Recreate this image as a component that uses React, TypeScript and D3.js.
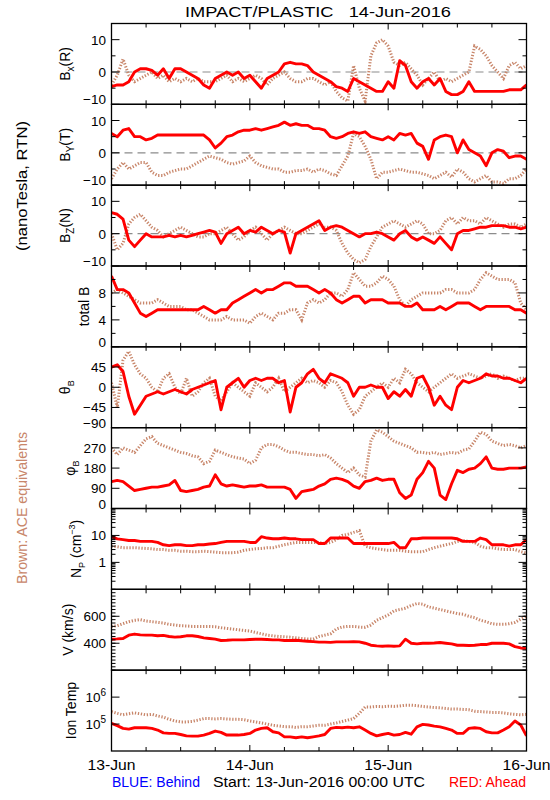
import React from "react";
import * as d3 from "d3";

// ---------- data (hourly samples, hours since 13-Jun-2016 00:00 UTC) ----------
const HOURS = [
  0, 1, 2, 3, 4, 5, 6, 7, 8, 9, 10, 11, 12, 13, 14, 15, 16, 17, 18, 19, 20, 21, 22, 23,
  24, 25, 26, 27, 28, 29, 30, 31, 32, 33, 34, 35, 36, 37, 38, 39, 40, 41, 42, 43, 44, 45, 46, 47,
  48, 49, 50, 51, 52, 53, 54, 55, 56, 57, 58, 59, 60, 61, 62, 63, 64, 65, 66, 67, 68, 69, 70, 71, 72,
];
const DAY_TICKS = [0, 24, 48, 72];
const DAY_LABELS = ["13-Jun", "14-Jun", "15-Jun", "16-Jun"];
const SIX_HOUR_TICKS = [0, 6, 12, 18, 24, 30, 36, 42, 48, 54, 60, 66, 72];

// Bx (R), nT
const bxRed = [-4.5, -4, -4, -3, 0, 1, 1, 0.5, -1, 1, -2, 1, 1, 0, -1, -2, -4, -5, -2, -1, 0, -1, 0, -2, -1, -3, -5, -2, -1, 0, 2.5, 3, 2.5, 2.5, 2, 0, -1, -2, -3, -4.5, -5, -6, -2, -3, -4, -5, -6, -6, -3, -5, 3.5, 2, -3, -5, -3, -2, -4, -2, -6, -7, -7, -6, -3, -6, -6, -6, -6, -6, -6, -5.5, -5.5, -5.5, -4];
const bxAce = [-4, -1, 4, -1, -3, -2, -1, 0, -2, -1, -3, -2, -3, -2, -3, -2, -3, -3, -3, -2, -1, -3, -2, -3, -2, -1, -2, -4, -2, -1, 0, -2, -3, -3, -2, -2, -3, -4, -3, -6, -8, -9, 2, -5, -9, 5, 9, 10, 8, 3, 2, 3, 1, -1, -4, -2, 0, -3, -2, -3, -2, -1, 0, 8, 7, 5, 2, 0, -2, 2, 3, 1, 2];
// By (T), nT
const byRed = [6, 5, 7, 7.5, 5, 5, 4, 4.5, 5.5, 5.5, 5.5, 5.5, 5.5, 5.5, 5.5, 5.5, 5.5, 4, 1.5, 3, 5, 5.5, 6.5, 7, 7, 7.5, 7, 7.5, 8, 8.5, 9.5, 8.5, 9, 8.5, 8.5, 7.5, 7.5, 7, 5, 4.5, 5, 6, 6.5, 6, 6.5, 5, 4.5, 4, 5, 4, 6, 5.5, 6, 3, 2, -2, 4, 5, 5.5, 5, 0, 4, 1, 0, -1, -4, 0, 1, 0.5, -1.5, -1, -1, -2];
const byAce = [-8, -5, -3, -5, -4, -3, -3, -6, -7, -7, -6, -5.5, -5, -5, -4, -3, -2, -1, -1.5, -2, -3, -3.5, -3, -2.5, -1, -3, -4, -4.5, -5, -5, -6, -6, -5.5, -5.5, -5, -6, -5, -5.5, -6.5, -7, -4, -1, 6, 5, 2, -2, -8, -6, -6, -5.5, -5, -5.5, -6, -6, -6.5, -7, -8, -7, -6, -7.5, -5, -6, -8, -9, -8, -7, -9, -9, -9.5, -8, -8, -7, -5];
// Bz (N), nT
const bzRed = [6.5, 6, 4.5, -2, -4, -2, 0, -1, -1, -1, -0.5, -1, -0.5, -1, -0.5, 0, 0.5, 1, 0.5, -3, 0, 1, 2, 0, 1, 0.5, 2, 1, 0, 1, 0.5, -6, 0, 1, 2, 3, 4, 1, 2, 2.5, 2, 1, 0, -1, 0, 0, 0.5, 0, -1, -2, 0, 1, -1, -2, -1, -2, -3, -1, -3, -5, 0, 1, 1, 1.5, 2, 2, 2.5, 2.5, 2.5, 2, 2, 1.5, 2];
const bzAce = [0, -5, -3, 3, 5, 6, 4, 2, 1, -1, 0, 1, 2, 1, 0, -1, -1, 0, 0, 1, 2, 0, -2, -1, 1, 2, 0, -2, 0, 1, 2, 1, 0, 0, 1, 2, 3, 2, 2, 1, -3, -6, -8, -9, -8, -4, -1, 2, 3, 4, 3, 2, 3, 4, 3, 0, 0, 1, 4, 5, 3, 5, 4, 4, 3, 5, 4, 3, 2, 3, 3, 2, 3];
// total B, nT
const btRed = [10.5, 8.5, 8.5, 8, 6.5, 5, 4.5, 5, 5.5, 5.5, 5.5, 5.5, 5.5, 5.5, 5.5, 5.5, 6, 5.5, 5, 5.5, 5.5, 6.5, 7, 7.5, 8, 8.5, 8, 8.5, 8.5, 9, 9.5, 9.5, 9, 9, 9, 8.5, 8, 8.5, 8, 7, 6.5, 7, 7.5, 7.5, 6.5, 7, 7, 7, 6.5, 6.5, 6.5, 6, 6, 6.5, 5.5, 5.5, 5.5, 6, 5.5, 6, 6.5, 6.5, 6.5, 6, 5.5, 6, 6, 6, 6, 6, 5.5, 5.5, 5];
const btAce = [8, 8.5, 8, 7.5, 7, 6.5, 6.5, 6.5, 7, 6.5, 6, 6, 6, 5.5, 5.5, 5, 4.5, 4, 4, 4, 4.5, 4, 4, 4, 3.5, 4.5, 5, 4.5, 4, 5, 5, 5.5, 5.5, 4, 6.5, 7, 6.5, 7, 8, 8, 7.5, 8.5, 11, 10, 9, 9, 9.5, 10.5, 10, 9, 7, 6, 7, 7.5, 8, 8, 8, 8, 8.5, 8.5, 8, 8, 8, 8.5, 10, 11, 10.5, 10, 10, 10, 9.5, 6.5, 5.5];
// theta_B, degrees
const thRed = [45, 50, 35, -20, -60, -40, -20, -15, -10, -15, -10, -5, -10, -15, -5, 0, 5, 10, 15, -50, 0, 10, 20, 0, 15, 20, 15, 20, 20, 10, 15, -55, 0, 10, 30, 40, 20, 10, 30, 25, 20, 10, -20, 0, 0, 5, 0, 0, -25, -10, -20, -5, -20, 20, 25, 0, -40, -20, -40, -50, 0, 15, 10, 15, 20, 30, 25, 25, 20, 20, 15, 10, 20];
const thAce = [10, -45, 60, 80, 50, 30, 20, 0, -10, 20, 30, 0, -15, 20, -20, -10, 10, 20, -20, -30, -10, 10, 0, -10, -20, 10, 0, -10, 0, 20, -10, 0, 10, 20, 10, 15, 10, 0, 15, 10, -10, -40, -60, -50, -20, -10, 0, 10, 0, 20, 10, 40, 30, 10, 0, -10, 0, 10, 20, 30, 20, 25, 30, 25, 20, 25, 30, 20, 25, 20, 15, 20, 20];
// phi_B, degrees
const phRed = [120, 125, 120, 100, 80, 85, 90, 95, 95, 100, 105, 125, 80, 75, 80, 85, 95, 100, 150, 110, 100, 105, 100, 95, 100, 100, 105, 95, 95, 95, 95, 85, 45, 75, 80, 85, 100, 110, 130, 135, 130, 120, 100, 90, 120, 125, 135, 125, 130, 130, 70, 45, 60, 130, 160, 210, 180, 60, 40, 110, 170, 160, 175, 180, 200, 230, 180, 175, 175, 180, 180, 180, 185];
const phAce = [270, 240, 270, 260, 250, 280, 310, 320, 290, 280, 270, 260, 250, 245, 235, 230, 200, 210, 260, 250, 240, 230, 225, 220, 200, 215, 270, 285, 285, 275, 260, 250, 250, 245, 240, 240, 235, 240, 225, 200, 180, 160, 180, 150, 140, 300, 350, 340, 320, 300, 290, 280, 270, 250, 250, 245, 250, 240, 245, 250, 245, 260, 265, 300, 340, 330, 300, 290, 280, 285, 280, 270, 280];
// proton density, cm^-3
const npRed = [9, 7.5, 7, 6.5, 6.5, 6, 6, 6, 5.5, 4.5, 4.2, 4.5, 4.5, 4.2, 4.2, 4.5, 4.5, 4.8, 5, 5.5, 6, 6, 6, 6, 5.5, 5.5, 9, 8, 7.5, 7.5, 8, 7.5, 7.5, 7, 7, 7, 5, 5, 8, 8, 8, 8, 5, 5, 5, 5, 5, 5, 5, 5.5, 3.5, 3.5, 7.5, 7.5, 8, 8, 8, 8, 8, 8, 7.5, 6, 6, 6, 8, 7, 4.5, 4.5, 4.5, 4, 4.5, 4.5, 7];
const npAce = [4, 3.8, 3.5, 3.5, 3.5, 3.4, 3.3, 3.2, 3, 3, 2.8, 2.8, 2.6, 2.6, 2.5, 2.5, 2.6, 2.5, 2.4, 2.3, 2.3, 2.3, 2.4, 2.8, 3, 3.2, 3.3, 3.5, 3.5, 4, 4.5, 5, 5.5, 5.5, 5.5, 5.5, 5.5, 5, 5.5, 7, 10, 11, 13, 15, 4, 3.5, 3.2, 3, 2.8, 2.8, 2.8, 2.6, 2.5, 2.5, 2.5, 3, 3.5, 4, 4.5, 5, 6, 6.5, 6, 5.5, 4, 3.5, 3.5, 3.2, 3, 3, 3, 2.5, 2.2];
// bulk speed, km/s
const vRed = [430, 432, 435, 460, 468, 462, 460, 460, 455, 458, 450, 445, 448, 455, 455, 450, 440, 435, 430, 420, 422, 425, 425, 425, 428, 430, 430, 428, 425, 425, 420, 420, 422, 418, 415, 412, 408, 408, 406, 410, 410, 410, 412, 410, 400, 385, 380, 378, 380, 378, 380, 430, 400, 395, 400, 400, 402, 405, 400, 395, 385, 385, 383, 385, 390, 390, 400, 400, 400, 395, 375, 365, 360];
const vAce = [525, 530, 545, 560, 570, 575, 565, 560, 555, 550, 540, 535, 530, 528, 525, 525, 525, 525, 522, 515, 510, 505, 500, 495, 490, 480, 470, 460, 455, 450, 448, 445, 440, 435, 432, 430, 450, 460, 470, 505, 520, 525, 525, 520, 518, 535, 570, 590, 610, 640, 650, 660, 680, 695, 690, 670, 660, 650, 640, 630, 620, 615, 600, 590, 570, 560, 545, 540, 540, 545, 555, 580, 600];
// ion temperature, K
const tRed = [1.06e5, 8.7e4, 6.9e4, 6.5e4, 7.3e4, 7.3e4, 7.3e4, 6.9e4, 6.0e4, 4.7e4, 4.5e4, 4.5e4, 4.1e4, 3.65e4, 3.55e4, 3.55e4, 3.9e4, 4.5e4, 5.5e4, 4.9e4, 3.9e4, 3.9e4, 3.9e4, 4.1e4, 4.5e4, 6.0e4, 6.9e4, 7.3e4, 5.2e4, 4.7e4, 3.35e4, 3.35e4, 3.1e4, 3.35e4, 3.1e4, 3.35e4, 3.65e4, 4.1e4, 6.9e4, 7.5e4, 7.3e4, 7.7e4, 7.3e4, 7.9e4, 6.0e4, 4.5e4, 3.65e4, 4.1e4, 4.5e4, 3.9e4, 4.1e4, 4.9e4, 4.2e4, 7.9e4, 9.7e4, 9.2e4, 8.4e4, 7.9e4, 6.9e4, 6.0e4, 4.5e4, 4.5e4, 6.9e4, 7.3e4, 6.9e4, 5.2e4, 4.7e4, 4.7e4, 6.0e4, 7.9e4, 1.3e5, 9.2e4, 3.65e4];
const tAce = [2.9e5, 2.5e5, 2.2e5, 2.4e5, 2.6e5, 2.4e5, 2.2e5, 2.3e5, 2.0e5, 1.8e5, 1.5e5, 1.3e5, 1.2e5, 1.2e5, 1.25e5, 1.4e5, 1.6e5, 1.6e5, 1.55e5, 1.6e5, 1.55e5, 1.5e5, 1.5e5, 1.45e5, 1.3e5, 1.2e5, 1.1e5, 1.0e5, 9e4, 8.5e4, 8e4, 8e4, 7.5e4, 8e4, 8e4, 8.5e4, 9e4, 9e4, 1e5, 1.1e5, 1.25e5, 1.4e5, 1.6e5, 2.5e5, 4.3e5, 4.3e5, 4.5e5, 4.4e5, 4.6e5, 4.5e5, 4.7e5, 5e5, 5e5, 4.8e5, 4.5e5, 4.3e5, 4.1e5, 4e5, 3.8e5, 3.6e5, 3.6e5, 3.5e5, 3.4e5, 3.0e5, 2.9e5, 2.8e5, 2.7e5, 2.7e5, 2.6e5, 2.4e5, 2.3e5, 2.2e5, 2.3e5];

// ---------- layout ----------
const FONT = "'Liberation Sans', Arial, Helvetica, sans-serif";
const RED = "#ff0000";
const BROWN = "#c8866a";
const X0 = 111.5;
const X1 = 526.5;
const TOP = 23.5;
const BOT = 751;
const NP = 9;
const PH = (BOT - TOP) / NP;
const TICK_FS = 13.5;

type Lbl = { v: number; text: React.ReactNode };
type PanelDef = {
  id: string;
  red: number[];
  ace: number[];
  log?: boolean;
  domain: [number, number];
  major: number[];
  minor: number[];
  labels: Lbl[];
  zero?: boolean;
  title: React.ReactNode;
  titleX: number;
};

const pow10 = (e: string) => (
  <>
    <tspan>10</tspan>
    <tspan dy={-6} fontSize={10}>{e}</tspan>
  </>
);

const logMinor = (lo: number, hi: number) => {
  const out: number[] = [];
  for (let d = lo; d < hi; d *= 10) for (let k = 2; k <= 9; k++) out.push(d * k);
  return out;
};

const PANELS: PanelDef[] = [
  {
    id: "bx", red: bxRed, ace: bxAce, domain: [-10, 15], major: [-10, 0, 10], minor: [-5, 5],
    labels: [{ v: 10, text: "10" }, { v: 0, text: "0" }, { v: -10, text: "\u221210" }], zero: true,
    title: (<><tspan>B</tspan><tspan dy={4} fontSize={10}>x</tspan><tspan dy={-4}>(R)</tspan></>), titleX: 70,
  },
  {
    id: "by", red: byRed, ace: byAce, domain: [-10, 15], major: [-10, 0, 10], minor: [-5, 5],
    labels: [{ v: 10, text: "10" }, { v: 0, text: "0" }, { v: -10, text: "\u221210" }], zero: true,
    title: (<><tspan>B</tspan><tspan dy={4} fontSize={10}>Y</tspan><tspan dy={-4}>(T)</tspan></>), titleX: 70,
  },
  {
    id: "bz", red: bzRed, ace: bzAce, domain: [-10, 15], major: [-10, 0, 10], minor: [-5, 5],
    labels: [{ v: 10, text: "10" }, { v: 0, text: "0" }, { v: -10, text: "\u221210" }], zero: true,
    title: (<><tspan>B</tspan><tspan dy={4} fontSize={10}>Z</tspan><tspan dy={-4}>(N)</tspan></>), titleX: 70,
  },
  {
    id: "bt", red: btRed, ace: btAce, domain: [0, 12], major: [0, 4, 8], minor: [2, 6, 10],
    labels: [{ v: 8, text: "8" }, { v: 4, text: "4" }, { v: 0, text: "0" }],
    title: "total B", titleX: 89,
  },
  {
    id: "th", red: thRed, ace: thAce, domain: [-90, 90], major: [-90, -45, 0, 45], minor: [],
    labels: [{ v: 45, text: "45" }, { v: 0, text: "0" }, { v: -45, text: "\u221245" }, { v: -90, text: "\u221290" }],
    title: (<><tspan>{"\u03b8"}</tspan><tspan dy={4} fontSize={9}>B</tspan></>), titleX: 70,
  },
  {
    id: "ph", red: phRed, ace: phAce, domain: [0, 360], major: [0, 90, 180, 270], minor: [],
    labels: [{ v: 270, text: "270" }, { v: 180, text: "180" }, { v: 90, text: "90" }, { v: 0, text: "0" }],
    title: (<><tspan>{"\u03c6"}</tspan><tspan dy={4} fontSize={9}>B</tspan></>), titleX: 75,
  },
  {
    id: "np", red: npRed, ace: npAce, log: true, domain: [0.1, 100], major: [1, 10], minor: logMinor(0.1, 100),
    labels: [{ v: 10, text: "10" }, { v: 1, text: "1" }],
    title: (<><tspan>N</tspan><tspan dy={4} fontSize={9}>P</tspan><tspan dy={-4}>{" (cm"}</tspan><tspan dy={-6} fontSize={9}>{"\u22123"}</tspan><tspan dy={6}>)</tspan></>),
    titleX: 81,
  },
  {
    id: "v", red: vRed, ace: vAce, domain: [200, 800], major: [400, 600], minor: d3.range(200, 801, 25),
    labels: [{ v: 600, text: "600" }, { v: 400, text: "400" }],
    title: "V (km/s)", titleX: 73,
  },
  {
    id: "t", red: tRed, ace: tAce, log: true, domain: [1e4, 1e7], major: [1e5, 1e6], minor: [],
    labels: [{ v: 1e6, text: pow10("6") }, { v: 1e5, text: pow10("5") }],
    title: "Ion Temp", titleX: 76,
  },
];

const x = d3.scaleLinear().domain([0, 72]).range([X0, X1]);

function Panel({ p, idx }: { p: PanelDef; idx: number }) {
  const top = TOP + idx * PH;
  const bot = top + PH;
  const y: any = p.log
    ? d3.scaleLog().domain(p.domain).range([bot, top])
    : d3.scaleLinear().domain(p.domain).range([bot, top]);
  const line = d3
    .line<number>()
    .x((_, i) => x(HOURS[i]))
    .y((v) => y(v));
  const clipId = `clip-${p.id}`;
  const cy = (top + bot) / 2;
  return (
    <g>
      <defs>
        <clipPath id={clipId}>
          <rect x={X0} y={top} width={X1 - X0} height={PH} />
        </clipPath>
      </defs>
      <g clipPath={`url(#${clipId})`}>
        {p.zero && (
          <line x1={X0} x2={X1} y1={y(0)} y2={y(0)} stroke="#8c8c8c" strokeWidth={1.2} strokeDasharray="8 5" />
        )}
        <path d={line(p.ace) ?? ""} fill="none" stroke={BROWN} strokeWidth={3} strokeDasharray="1.3 1.7" />
        <path d={line(p.red) ?? ""} fill="none" stroke={RED} strokeWidth={2.9} strokeLinejoin="round" />
      </g>
      {p.major.map((v) => (
        <g key={`M${v}`}>
          <line x1={X0} x2={X0 + 8} y1={y(v)} y2={y(v)} stroke="#000" />
          <line x1={X1 - 8} x2={X1} y1={y(v)} y2={y(v)} stroke="#000" />
        </g>
      ))}
      {p.minor.map((v) => (
        <g key={`m${v}`}>
          <line x1={X0} x2={X0 + 4} y1={y(v)} y2={y(v)} stroke="#000" />
          <line x1={X1 - 4} x2={X1} y1={y(v)} y2={y(v)} stroke="#000" />
        </g>
      ))}
      {SIX_HOUR_TICKS.map((h) => {
        const len = DAY_TICKS.includes(h) ? 6 : 4;
        return (
          <g key={`x${h}`}>
            <line x1={x(h)} x2={x(h)} y1={top} y2={top + len} stroke="#000" />
            <line x1={x(h)} x2={x(h)} y1={bot} y2={bot - len} stroke="#000" />
          </g>
        );
      })}
      <rect x={X0} y={top} width={X1 - X0} height={PH} fill="none" stroke="#000" strokeWidth={1.3} />
      {p.labels.map((l) => {
        const yy = y(l.v);
        const shift = Math.abs(yy - bot) < 1 ? 0 : 5;
        return (
          <text key={`l${l.v}`} x={106} y={yy + shift} textAnchor="end" fontSize={TICK_FS}>
            {l.text}
          </text>
        );
      })}
      <text transform={`translate(${p.titleX},${cy}) rotate(-90)`} textAnchor="middle" fontSize={14}>
        {p.title}
      </text>
    </g>
  );
}

export default function App() {
  return (
    <svg
      width={550}
      height={800}
      style={{ position: "absolute", left: 0, top: 0, display: "block" }}
      fontFamily={FONT}
    >
      <rect width={550} height={800} fill="#fff" />
      <text
        x={318}
        y={17}
        textAnchor="middle"
        fontSize={14.5}
        textLength={266}
        lengthAdjust="spacingAndGlyphs"
        style={{ whiteSpace: "pre" }}
      >
        {"IMPACT/PLASTIC   14-Jun-2016"}
      </text>
      {PANELS.map((p, i) => (
        <Panel key={p.id} p={p} idx={i} />
      ))}
      <text transform="translate(27,186) rotate(-90)" textAnchor="middle" fontSize={14} textLength={130} lengthAdjust="spacingAndGlyphs">
        (nanoTesla, RTN)
      </text>
      <text transform="translate(27,508) rotate(-90)" textAnchor="middle" fontSize={14} fill={BROWN} textLength={152} lengthAdjust="spacingAndGlyphs">
        Brown: ACE equivalents
      </text>
      {DAY_TICKS.map((h, i) => (
        <text key={h} x={x(h)} y={770} textAnchor="middle" fontSize={14} textLength={48} lengthAdjust="spacingAndGlyphs">
          {DAY_LABELS[i]}
        </text>
      ))}
      <text x={112} y={787} fontSize={14} fill="#0000ff">BLUE: Behind</text>
      <text x={319} y={787} fontSize={14} textAnchor="middle" textLength={212} lengthAdjust="spacingAndGlyphs">
        Start: 13-Jun-2016 00:00 UTC
      </text>
      <text x={526} y={787} fontSize={14} textAnchor="end" fill={RED}>RED: Ahead</text>
    </svg>
  );
}
